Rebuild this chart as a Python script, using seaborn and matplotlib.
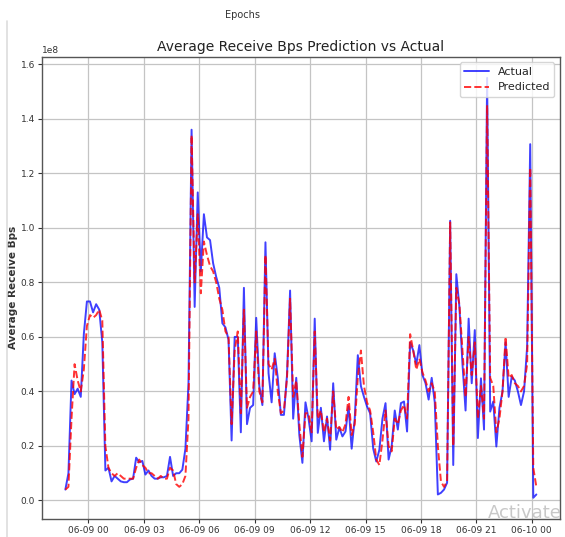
import matplotlib
matplotlib.use("Agg")
import matplotlib.pyplot as plt
import matplotlib.dates as mdates
from matplotlib.lines import Line2D
import seaborn as sns
import pandas as pd

# series, 10 minute steps, values in units of 1e8 bps
start_time = "2023-06-08 22:45"
step = "10min"

actual = [
    0.04, 0.10, 0.44, 0.39, 0.41, 0.38, 0.61, 0.73, 0.73, 0.69,
    0.72, 0.70, 0.58, 0.11, 0.12, 0.07, 0.09, 0.08, 0.07, 0.067,
    0.067, 0.077, 0.08, 0.157, 0.14, 0.145, 0.095, 0.11, 0.09, 0.08,
    0.08, 0.085, 0.085, 0.09, 0.16, 0.09, 0.10, 0.10, 0.113, 0.19,
    0.43, 1.36, 0.71, 1.13, 0.84, 1.05, 0.965, 0.955, 0.87, 0.82,
    0.78, 0.65, 0.635, 0.59, 0.22, 0.60, 0.60, 0.25, 0.78, 0.28,
    0.34, 0.35, 0.67, 0.42, 0.35, 0.947, 0.467, 0.36, 0.54, 0.45,
    0.314, 0.314, 0.46, 0.77, 0.30, 0.45, 0.24, 0.138, 0.36, 0.30,
    0.217, 0.667, 0.248, 0.34, 0.217, 0.308, 0.186, 0.43, 0.223, 0.267,
    0.235, 0.253, 0.345, 0.19, 0.30, 0.533, 0.42, 0.38, 0.345, 0.32,
    0.19, 0.143, 0.186, 0.30, 0.357, 0.15, 0.20, 0.33, 0.26, 0.357,
    0.363, 0.253, 0.58, 0.55, 0.50, 0.57, 0.46, 0.43, 0.37, 0.45,
    0.36, 0.022, 0.028, 0.04, 0.065, 1.026, 0.13, 0.83, 0.71, 0.50,
    0.33, 0.667, 0.43, 0.625, 0.229, 0.448, 0.26, 1.55, 0.326, 0.363,
    0.198, 0.339, 0.40, 0.58, 0.38, 0.454, 0.44, 0.40, 0.35, 0.40,
    0.564, 1.307, 0.01, 0.022,
]

predicted = [
    0.04, 0.05, 0.30, 0.50, 0.44, 0.40, 0.48, 0.64, 0.68, 0.67,
    0.68, 0.70, 0.66, 0.20, 0.12, 0.10, 0.09, 0.10, 0.09, 0.08,
    0.08, 0.08, 0.08, 0.12, 0.15, 0.13, 0.12, 0.10, 0.10, 0.09,
    0.08, 0.09, 0.08, 0.08, 0.12, 0.11, 0.06, 0.05, 0.06, 0.09,
    0.30, 1.34, 0.80, 1.05, 0.76, 0.95, 0.90, 0.86, 0.84, 0.80,
    0.74, 0.70, 0.62, 0.60, 0.28, 0.55, 0.62, 0.32, 0.70, 0.34,
    0.38, 0.40, 0.62, 0.40, 0.36, 0.90, 0.50, 0.48, 0.52, 0.40,
    0.32, 0.33, 0.45, 0.74, 0.38, 0.44, 0.28, 0.16, 0.32, 0.32,
    0.25, 0.62, 0.30, 0.33, 0.25, 0.30, 0.22, 0.40, 0.26, 0.27,
    0.25, 0.28, 0.38, 0.24, 0.28, 0.45, 0.55, 0.42, 0.36, 0.33,
    0.25, 0.15, 0.13, 0.22, 0.33, 0.20, 0.18, 0.30, 0.28, 0.33,
    0.35, 0.30, 0.61, 0.55, 0.48, 0.52, 0.47, 0.44, 0.40, 0.43,
    0.40, 0.20, 0.07, 0.05, 0.07, 1.02, 0.20, 0.78, 0.72, 0.55,
    0.38, 0.60, 0.46, 0.58, 0.30, 0.42, 0.30, 1.45, 0.45, 0.42,
    0.25, 0.30, 0.40, 0.60, 0.45, 0.46, 0.43, 0.42, 0.40, 0.42,
    0.50, 1.22, 0.12, 0.05,
]

times = pd.date_range(start_time, periods=len(actual), freq=step)
df = pd.DataFrame({
    "time": times,
    "Actual": [v * 1e8 for v in actual],
    "Predicted": [v * 1e8 for v in predicted],
})

sns.set_style("ticks")
plt.rcParams["font.family"] = ["Liberation Sans Narrow", "DejaVu Sans"]

fig = plt.figure(figsize=(5.65, 5.37), dpi=100)
ax = fig.add_axes([0.074, 0.034, 0.917, 0.860])

sns.lineplot(data=df, x="time", y="Actual", ax=ax, color="blue", alpha=0.75,
             linewidth=1.4, label="Actual")
sns.lineplot(data=df, x="time", y="Predicted", ax=ax, color="red", alpha=0.8,
             linewidth=1.4, linestyle="--", label="Predicted")

ax.grid(True, color="#c4c4c4", linewidth=0.9)
ax.xaxis.set_major_locator(mdates.HourLocator(byhour=range(0, 24, 3)))
ax.xaxis.set_major_formatter(mdates.DateFormatter("%m-%d %H"))
ax.tick_params(labelsize=6.5, colors="#333333", length=3, pad=2)
ax.yaxis.get_offset_text().set_fontsize(6.5)

for s in ax.spines.values():
    s.set_color("#555555")
    s.set_linewidth(1.0)

ax.set_xlabel("")
ax.set_ylabel("Average Receive Bps", family="DejaVu Sans", fontsize=7.5,
              fontweight="bold", color="#333333")
ax.yaxis.set_label_coords(-0.045, 0.5)
ax.set_title("Average Receive Bps Prediction vs Actual", fontsize=10, pad=4,
             color="#222222")
ax.legend(loc="upper right", fontsize=8, frameon=True, handlelength=2.2)

fig.text(0.43, 0.972, "Epochs", fontsize=7, ha="center", va="center",
         color="#333333")
fig.text(0.995, 0.045, "Activate", fontsize=13, ha="right", va="center",
         color="#bbbbbb", alpha=0.8)
fig.add_artist(Line2D([0.012, 0.012], [0.0, 0.96], color="#dddddd",
                      linewidth=1.2, transform=fig.transFigure))

fig.savefig("out.png", dpi=100)
